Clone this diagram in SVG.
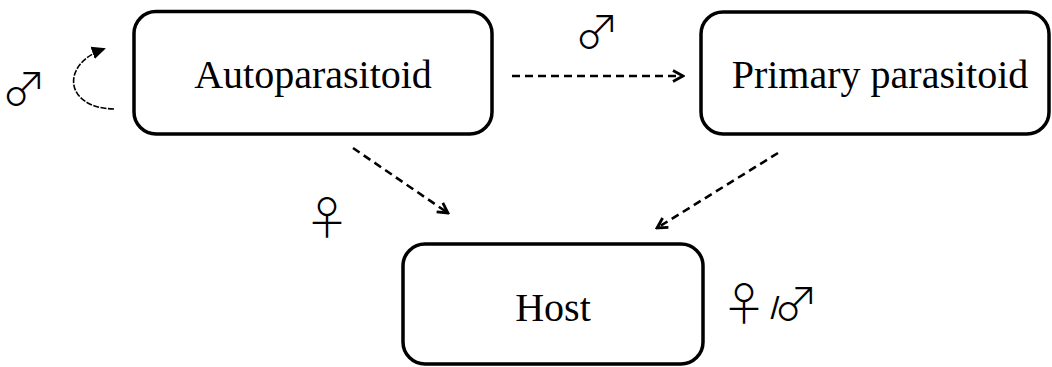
<svg xmlns="http://www.w3.org/2000/svg" width="1052" height="367" viewBox="0 0 1052 367">
<defs>
<style>
.box{fill:#fff;stroke:#000;stroke-width:3.5}
.lbl{font-family:"Liberation Serif","Times New Roman",serif;font-size:40px;fill:#000;text-anchor:middle}
.sym{font-family:"Noto Sans CJK JP","Noto Sans CJK SC",sans-serif;font-weight:300;font-size:45px;fill:#000;text-anchor:middle}
.dash{fill:none;stroke:#000;stroke-width:2.6;stroke-dasharray:8 5}
.fine{fill:none;stroke:#000;stroke-width:1.6;stroke-dasharray:6 1.5}
</style>
<marker id="open" viewBox="0 0 14 14" refX="12" refY="7" markerWidth="14" markerHeight="14" markerUnits="userSpaceOnUse" orient="auto">
<path d="M2,1.5 L12,7 L2,12.5" fill="none" stroke="#000" stroke-width="2.8"/>
</marker>
<marker id="solid" viewBox="0 0 14 14" refX="12" refY="7" markerWidth="14" markerHeight="14" markerUnits="userSpaceOnUse" orient="auto">
<path d="M0,0.5 L14,7 L0,13.5 Z" fill="#000"/>
</marker>
</defs>
<rect width="1052" height="367" fill="#fff"/>
<g id="autoparasitoid">
<rect class="box" x="134" y="11.5" width="358" height="122.5" rx="22"/>
<text class="lbl" x="313" y="88">Autoparasitoid</text>
</g>
<g id="primary">
<rect class="box" x="701" y="12" width="348" height="122" rx="22"/>
<text class="lbl" x="880" y="88">Primary parasitoid</text>
</g>
<g id="host">
<rect class="box" x="403" y="244" width="300" height="120" rx="22"/>
<text class="lbl" x="553" y="321">Host</text>
</g>
<g id="connectors">
<path class="dash" d="M512,76 L683,76" marker-end="url(#open)"/>
<path class="dash" d="M353,148 L448,213" marker-end="url(#open)"/>
<path class="dash" d="M778,153 L657,228" marker-end="url(#open)"/>
<path class="fine" d="M114,109 C64,108 60,64 104,49" marker-end="url(#solid)"/>
</g>
<g id="labels">
<text class="sym" x="24" y="106">♂</text>
<text class="sym" x="597" y="49">♂</text>
<text class="sym" x="327" y="235">♀</text>
<text class="sym" y="321"><tspan x="744">♀</tspan><tspan x="775" y="319" font-family="'Liberation Sans',sans-serif" font-weight="normal" font-size="32">/</tspan><tspan x="796" y="321">♂</tspan></text>
</g>
</svg>
